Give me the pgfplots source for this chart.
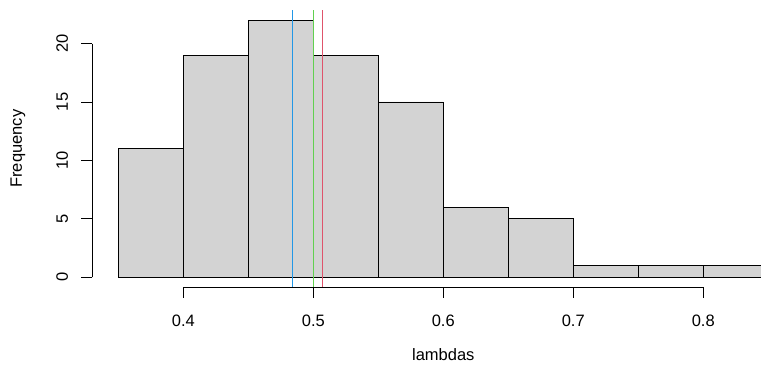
\documentclass[border=0pt]{standalone}
\usepackage{pgfplots}
\pgfplotsset{compat=1.18}
\usepackage{fontspec}
\setmainfont{Liberation Sans}
\definecolor{histfill}{HTML}{D3D3D3}
\definecolor{rblue}{HTML}{2297E6}
\definecolor{rgreen}{HTML}{61D04F}
\definecolor{rred}{HTML}{DF536B}
\begin{document}
\begin{tikzpicture}[font=\fontsize{16.5bp}{19bp}\selectfont]
\begin{axis}[
  scale only axis,
  width=668.7bp, height=277.3bp,
  xmin=0.33, xmax=0.8444, ymin=-0.88, ymax=22.88,
  hide axis, clip=false,
]
\coordinate (bl) at (rel axis cs:0,0);
\addplot[ybar interval, fill=histfill, draw=black, line width=0.9bp] coordinates {
 (0.35,11) (0.40,19) (0.45,22) (0.50,19) (0.55,15) (0.60,6) (0.65,5) (0.70,1) (0.75,1) (0.80,1) (0.85,1)
};
\addplot[rblue, line width=1bp] coordinates {(0.4841,-0.88) (0.4841,22.88)};
\addplot[rgreen, line width=1bp] coordinates {(0.5,-0.88) (0.5,22.88)};
\addplot[rred, line width=1bp] coordinates {(0.5072,-0.88) (0.5072,22.88)};
% x axis
\draw[line width=0.9bp] (axis cs:0.4,-0.88) -- (axis cs:0.8,-0.88);
\pgfplotsinvokeforeach{0.4,0.5,0.6,0.7,0.8}{
  \draw[line width=0.9bp] (axis cs:#1,-0.88) -- ([yshift=-11bp]axis cs:#1,-0.88);
  \node[anchor=center, inner sep=0pt] at ([yshift=-33.4bp]axis cs:#1,-0.88) {#1};
}
% y axis
\draw[line width=0.9bp] (axis cs:0.33,0) -- (axis cs:0.33,20);
\pgfplotsinvokeforeach{0,5,10,15,20}{
  \draw[line width=0.9bp] (axis cs:0.33,#1) -- ([xshift=-11bp]axis cs:0.33,#1);
  \node[anchor=center, inner sep=0pt, rotate=90] at ([xshift=-30bp]axis cs:0.33,#1) {#1};
}
\node[anchor=center, inner sep=0pt] at ([yshift=-67.7bp]axis cs:0.6,-0.88) {lambdas};
\node[anchor=center, inner sep=0pt, rotate=90] at ([xshift=-74.3bp]axis cs:0.33,11) {Frequency};
\end{axis}
\pgfresetboundingbox
\path ([shift={(-92.3bp,-86.7bp)}]bl) rectangle ++(761bp,374bp);
\end{tikzpicture}
\end{document}
